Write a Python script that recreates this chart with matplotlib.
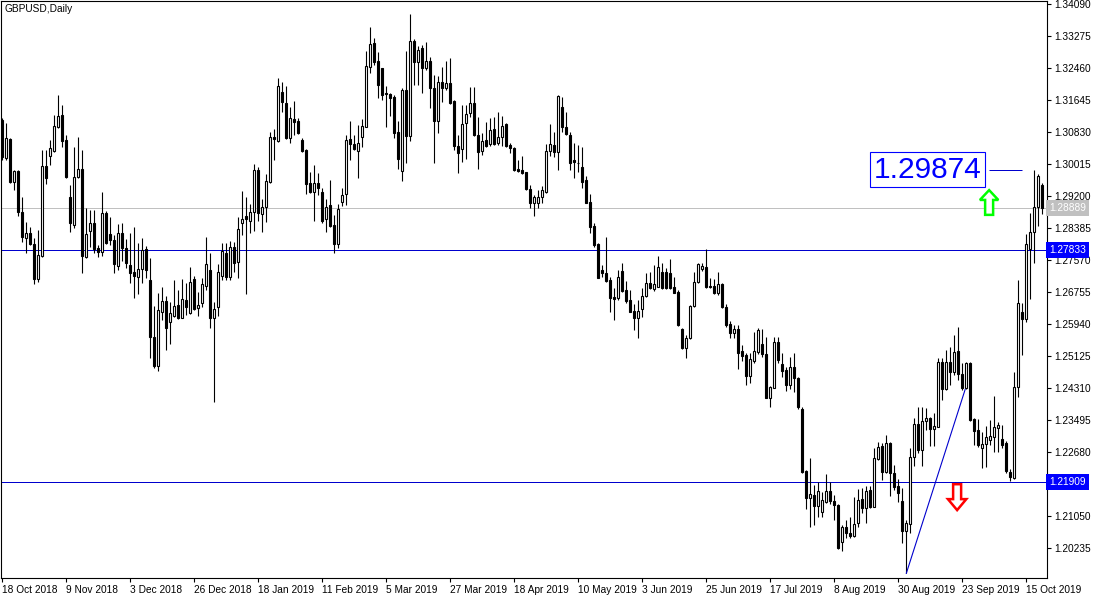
import matplotlib.pyplot as plt
from matplotlib.patches import Polygon
import numpy as np

plt.rcParams['font.family'] = ['Liberation Sans', 'DejaVu Sans']

opens = [
    1.3114, 1.3018, 1.3065, 1.2956, 1.2984, 1.2879, 1.2813, 1.2826, 1.2798, 1.2709,
    1.2767, 1.2996, 1.3022, 1.3035, 1.3096, 1.3126, 1.3063, 1.2918, 1.2846, 1.2968,
    1.2989, 1.2765, 1.2831, 1.2851, 1.2788, 1.2777, 1.2877, 1.2823, 1.2808, 1.2742,
    1.2826, 1.2788, 1.2744, 1.2726, 1.2714, 1.2734, 1.2785, 1.2706, 1.2561, 1.2487,
    1.2625, 1.2653, 1.2599, 1.2614, 1.2642, 1.2609, 1.2655, 1.2622, 1.2709, 1.2635,
    1.2647, 1.2691, 1.2732, 1.2609, 1.2637, 1.2716, 1.2775, 1.2714, 1.2790, 1.2752,
    1.2851, 1.2869, 1.2856, 1.2879, 1.2986, 1.2874, 1.2892, 1.2956, 1.3070, 1.3060,
    1.3185, 1.3157, 1.3068, 1.3116, 1.3111, 1.3063, 1.3037, 1.2953, 1.2930, 1.2953,
    1.2930, 1.2861, 1.2897, 1.2846, 1.2798, 1.2905, 1.2925, 1.3065, 1.3052, 1.3035,
    1.3070, 1.3096, 1.3249, 1.3310, 1.3264, 1.3246, 1.3182, 1.3180, 1.3172, 1.3083,
    1.2984, 1.3190, 1.3073, 1.3315, 1.3261, 1.3297, 1.3246, 1.3264, 1.3195, 1.3111,
    1.3210, 1.3195, 1.3208, 1.3162, 1.3047, 1.3040, 1.3106, 1.3131, 1.3157, 1.3075,
    1.3035, 1.3063, 1.3052, 1.3091, 1.3055, 1.3070, 1.3103, 1.3050, 1.3042, 1.2989,
    1.2986, 1.2981, 1.2938, 1.2902, 1.2902, 1.2918, 1.2930, 1.3035, 1.3050, 1.3032,
    1.3147, 1.3096, 1.3075, 1.3012, 1.3005, 1.2994, 1.2961, 1.2905, 1.2844, 1.2798,
    1.2732, 1.2724, 1.2706, 1.2663, 1.2660, 1.2729, 1.2681, 1.2655, 1.2627, 1.2609,
    1.2632, 1.2665, 1.2698, 1.2683, 1.2688, 1.2726, 1.2726, 1.2724, 1.2688, 1.2676,
    1.2581, 1.2533, 1.2558, 1.2640, 1.2701, 1.2734, 1.2739, 1.2691, 1.2691, 1.2673,
    1.2696, 1.2637, 1.2594, 1.2571, 1.2581, 1.2525, 1.2515, 1.2462, 1.2500, 1.2523,
    1.2543, 1.2518, 1.2405, 1.2431, 1.2548, 1.2492, 1.2477, 1.2439, 1.2484, 1.2456,
    1.2378, 1.2220, 1.2151, 1.2158, 1.2130, 1.2115, 1.2141, 1.2169, 1.2143, 1.2133,
    1.2039, 1.2077, 1.2062, 1.2054, 1.2087, 1.2148, 1.2125, 1.2171, 1.2128, 1.2250,
    1.2283, 1.2217, 1.2291, 1.2215, 1.2181, 1.2143, 1.2067, 1.2085, 1.2255, 1.2339,
    1.2273, 1.2347, 1.2355, 1.2327, 1.2332, 1.2497, 1.2428, 1.2497, 1.2472, 1.2525,
    1.2467, 1.2431, 1.2495, 1.2352, 1.2324, 1.2278, 1.2288, 1.2299, 1.2306, 1.2329,
    1.2301, 1.2291, 1.2217, 1.2202, 1.2434, 1.2625, 1.2607, 1.2785, 1.2828, 1.2892, 1.2948,
]
highs = [
    1.3119, 1.3106, 1.3068, 1.2986, 1.2986, 1.2918, 1.2854, 1.2841, 1.2813, 1.2833,
    1.3037, 1.3037, 1.3063, 1.3126, 1.3177, 1.3152, 1.3075, 1.2948, 1.3045, 1.3070,
    1.3037, 1.2889, 1.2884, 1.2884, 1.2795, 1.2930, 1.2882, 1.2866, 1.2821, 1.2849,
    1.2851, 1.2810, 1.2826, 1.2841, 1.2800, 1.2813, 1.2793, 1.2762, 1.2640, 1.2673,
    1.2688, 1.2665, 1.2650, 1.2706, 1.2681, 1.2709, 1.2698, 1.2739, 1.2716, 1.2676,
    1.2711, 1.2816, 1.2775, 1.2650, 1.2747, 1.2800, 1.2800, 1.2805, 1.2803, 1.2866,
    1.2933, 1.2918, 1.2900, 1.3001, 1.2994, 1.2912, 1.2976, 1.3083, 1.3091, 1.3221,
    1.3210, 1.3200, 1.3147, 1.3162, 1.3119, 1.3068, 1.3040, 1.2981, 1.2999, 1.2979,
    1.2940, 1.2912, 1.2961, 1.2872, 1.2900, 1.2940, 1.3075, 1.3111, 1.3075, 1.3101,
    1.3116, 1.3289, 1.3350, 1.3322, 1.3287, 1.3246, 1.3200, 1.3182, 1.3177, 1.3111,
    1.3195, 1.3289, 1.3384, 1.3320, 1.3302, 1.3305, 1.3312, 1.3274, 1.3228, 1.3226,
    1.3249, 1.3264, 1.3271, 1.3165, 1.3075, 1.3152, 1.3152, 1.3198, 1.3198, 1.3121,
    1.3080, 1.3108, 1.3119, 1.3121, 1.3134, 1.3124, 1.3106, 1.3055, 1.3045, 1.3012,
    1.3022, 1.2981, 1.2948, 1.2923, 1.2935, 1.2945, 1.3052, 1.3103, 1.3083, 1.3177,
    1.3172, 1.3134, 1.3083, 1.3055, 1.3050, 1.3045, 1.2971, 1.2925, 1.2851, 1.2800,
    1.2744, 1.2816, 1.2714, 1.2686, 1.2732, 1.2749, 1.2704, 1.2681, 1.2645, 1.2655,
    1.2686, 1.2724, 1.2726, 1.2744, 1.2767, 1.2749, 1.2737, 1.2759, 1.2714, 1.2681,
    1.2584, 1.2566, 1.2642, 1.2726, 1.2749, 1.2749, 1.2785, 1.2711, 1.2709, 1.2726,
    1.2698, 1.2645, 1.2602, 1.2591, 1.2591, 1.2540, 1.2520, 1.2520, 1.2574, 1.2584,
    1.2581, 1.2561, 1.2436, 1.2561, 1.2561, 1.2520, 1.2484, 1.2510, 1.2520, 1.2459,
    1.2383, 1.2222, 1.2253, 1.2184, 1.2192, 1.2166, 1.2212, 1.2192, 1.2158, 1.2136,
    1.2082, 1.2095, 1.2102, 1.2153, 1.2174, 1.2176, 1.2181, 1.2181, 1.2278, 1.2293,
    1.2291, 1.2311, 1.2293, 1.2235, 1.2199, 1.2176, 1.2095, 1.2278, 1.2355, 1.2383,
    1.2383, 1.2380, 1.2357, 1.2367, 1.2507, 1.2507, 1.2528, 1.2535, 1.2566, 1.2586,
    1.2495, 1.2497, 1.2497, 1.2355, 1.2352, 1.2319, 1.2334, 1.2350, 1.2411, 1.2345,
    1.2337, 1.2296, 1.2225, 1.2472, 1.2706, 1.2647, 1.2823, 1.2877, 1.29874, 1.2976, 1.2953,
]
lows = [
    1.3012, 1.3012, 1.2953, 1.2935, 1.2869, 1.2803, 1.2775, 1.2795, 1.2696, 1.2701,
    1.2765, 1.2951, 1.2999, 1.3032, 1.3093, 1.3045, 1.2966, 1.2828, 1.2839, 1.2966,
    1.2724, 1.2762, 1.2790, 1.2775, 1.2765, 1.2767, 1.2798, 1.2795, 1.2724, 1.2732,
    1.2754, 1.2737, 1.2698, 1.2660, 1.2670, 1.2698, 1.2711, 1.2507, 1.2482, 1.2474,
    1.2604, 1.2528, 1.2543, 1.2612, 1.2607, 1.2609, 1.2617, 1.2619, 1.2630, 1.2614,
    1.2637, 1.2681, 1.2584, 1.2395, 1.2614, 1.2706, 1.2706, 1.2706, 1.2726, 1.2711,
    1.2821, 1.2670, 1.2826, 1.2831, 1.2856, 1.2828, 1.2854, 1.2953, 1.3012, 1.3058,
    1.3134, 1.3065, 1.3055, 1.3075, 1.3078, 1.3032, 1.2925, 1.2928, 1.2856, 1.2923,
    1.2851, 1.2828, 1.2841, 1.2775, 1.2788, 1.2895, 1.2897, 1.3012, 1.3037, 1.2966,
    1.3045, 1.3096, 1.3233, 1.3254, 1.3170, 1.3165, 1.3096, 1.3124, 1.3068, 1.2989,
    1.2958, 1.3004, 1.3060, 1.3203, 1.3203, 1.3182, 1.3241, 1.3144, 1.3004, 1.3080,
    1.3159, 1.3190, 1.3154, 1.3037, 1.2979, 1.3007, 1.3014, 1.3121, 1.3073, 1.2989,
    1.3024, 1.3045, 1.3047, 1.3050, 1.3050, 1.3047, 1.3045, 1.3030, 1.2984, 1.2981,
    1.2976, 1.2935, 1.2889, 1.2869, 1.2889, 1.2902, 1.2928, 1.3022, 1.3019, 1.2986,
    1.3083, 1.3075, 1.2986, 1.2966, 1.2981, 1.2940, 1.2902, 1.2826, 1.2790, 1.2711,
    1.2714, 1.2701, 1.2625, 1.2604, 1.2655, 1.2676, 1.2647, 1.2625, 1.2579, 1.2558,
    1.2612, 1.2663, 1.2683, 1.2678, 1.2688, 1.2683, 1.2683, 1.2683, 1.2673, 1.2589,
    1.2530, 1.2507, 1.2556, 1.2637, 1.2698, 1.2729, 1.2686, 1.2686, 1.2670, 1.2668,
    1.2635, 1.2586, 1.2558, 1.2558, 1.2479, 1.2500, 1.2439, 1.2444, 1.2495, 1.2518,
    1.2510, 1.2405, 1.2383, 1.2431, 1.2495, 1.2459, 1.2423, 1.2428, 1.2421, 1.2378,
    1.2215, 1.2123, 1.2077, 1.2082, 1.2102, 1.2102, 1.2138, 1.2136, 1.2095, 1.2021,
    1.2016, 1.2049, 1.2049, 1.2052, 1.2077, 1.2113, 1.2087, 1.2125, 1.2128, 1.2248,
    1.2197, 1.2215, 1.2156, 1.2171, 1.2141, 1.2036, 1.1960, 1.2062, 1.2232, 1.2266,
    1.2232, 1.2324, 1.2283, 1.2283, 1.2332, 1.2400, 1.2426, 1.2439, 1.2464, 1.2451,
    1.2426, 1.2428, 1.2347, 1.2286, 1.2281, 1.2227, 1.2230, 1.2286, 1.2268, 1.2268,
    1.2278, 1.2215, 1.2194, 1.2199, 1.2408, 1.2515, 1.2599, 1.2658, 1.2749, 1.2844, 1.2874,
]
closes = [
    1.3019, 1.3068, 1.2956, 1.2984, 1.2879, 1.2816, 1.2826, 1.2798, 1.2709, 1.2770,
    1.2996, 1.2966, 1.3042, 1.3098, 1.3124, 1.3060, 1.2968, 1.2851, 1.2968, 1.2989,
    1.2767, 1.2823, 1.2851, 1.2785, 1.2777, 1.2877, 1.2800, 1.2808, 1.2747, 1.2826,
    1.2788, 1.2749, 1.2724, 1.2716, 1.2734, 1.2782, 1.2732, 1.2561, 1.2487, 1.2630,
    1.2653, 1.2584, 1.2622, 1.2640, 1.2609, 1.2658, 1.2637, 1.2701, 1.2632, 1.2642,
    1.2696, 1.2747, 1.2609, 1.2632, 1.2726, 1.2780, 1.2714, 1.2790, 1.2749, 1.2836,
    1.2861, 1.2861, 1.2879, 1.2986, 1.2877, 1.2892, 1.2958, 1.3070, 1.3065, 1.3200,
    1.3159, 1.3068, 1.3119, 1.3108, 1.3080, 1.3035, 1.2951, 1.2930, 1.2953, 1.2940,
    1.2856, 1.2892, 1.2844, 1.2798, 1.2887, 1.2923, 1.3063, 1.3052, 1.3040, 1.3055,
    1.3098, 1.3251, 1.3307, 1.3261, 1.3203, 1.3177, 1.3180, 1.3170, 1.3080, 1.3014,
    1.3190, 1.3073, 1.3315, 1.3261, 1.3292, 1.3246, 1.3264, 1.3195, 1.3111, 1.3210,
    1.3195, 1.3208, 1.3157, 1.3047, 1.3030, 1.3103, 1.3129, 1.3157, 1.3075, 1.3032,
    1.3060, 1.3047, 1.3088, 1.3052, 1.3070, 1.3098, 1.3047, 1.3042, 1.2986, 1.2984,
    1.2979, 1.2938, 1.2902, 1.2918, 1.2918, 1.2935, 1.3035, 1.3052, 1.3032, 1.3175,
    1.3096, 1.3078, 1.3004, 1.3007, 1.3003, 1.2956, 1.2902, 1.2841, 1.2795, 1.2711,
    1.2724, 1.2704, 1.2660, 1.2658, 1.2714, 1.2678, 1.2653, 1.2625, 1.2609, 1.2627,
    1.2665, 1.2698, 1.2686, 1.2696, 1.2739, 1.2686, 1.2686, 1.2686, 1.2673, 1.2591,
    1.2533, 1.2558, 1.2640, 1.2701, 1.2747, 1.2742, 1.2688, 1.2688, 1.2673, 1.2696,
    1.2637, 1.2591, 1.2571, 1.2581, 1.2520, 1.2512, 1.2462, 1.2505, 1.2525, 1.2579,
    1.2518, 1.2405, 1.2434, 1.2548, 1.2502, 1.2474, 1.2439, 1.2484, 1.2456, 1.2383,
    1.2217, 1.2151, 1.2161, 1.2130, 1.2169, 1.2146, 1.2169, 1.2143, 1.2133, 1.2023,
    1.2077, 1.2062, 1.2054, 1.2085, 1.2146, 1.2125, 1.2169, 1.2128, 1.2253, 1.2281,
    1.2217, 1.2291, 1.2215, 1.2179, 1.2164, 1.2067, 1.2087, 1.2255, 1.2339, 1.2273,
    1.2347, 1.2355, 1.2327, 1.2334, 1.2497, 1.2428, 1.2497, 1.2472, 1.2523, 1.2467,
    1.2431, 1.2495, 1.2350, 1.2322, 1.2286, 1.2288, 1.2306, 1.2309, 1.2332, 1.2337,
    1.2286, 1.2220, 1.2204, 1.2434, 1.2647, 1.2607, 1.2798, 1.2828, 1.2892, 1.2971, 1.28889,
]

date_ticks = [0, 16, 32, 48, 64, 80, 96, 112, 128, 144, 160, 176, 192, 208, 224, 240, 256]
date_labels = ['18 Oct 2018', '9 Nov 2018', '3 Dec 2018', '26 Dec 2018', '18 Jan 2019',
               '11 Feb 2019', '5 Mar 2019', '27 Mar 2019', '18 Apr 2019', '10 May 2019',
               '3 Jun 2019', '25 Jun 2019', '17 Jul 2019', '8 Aug 2019', '30 Aug 2019',
               '23 Sep 2019', '15 Oct 2019']
price_ticks = [1.34090, 1.33275, 1.32460, 1.31645, 1.30830, 1.30015, 1.29200, 1.28385,
               1.27570, 1.26755, 1.25940, 1.25125, 1.24310, 1.23495, 1.22680, 1.21865,
               1.21050, 1.20235]

levels = [1.27833, 1.21909]
bid = 1.28889
peak = 1.29874
trend_x = [226, 240.7]
trend_y = [1.1959, 1.2427]

o = np.array(opens)
h = np.array(highs)
l = np.array(lows)
c = np.array(closes)
x = np.arange(len(o))
up = c >= o

fig = plt.figure(figsize=(11, 6), dpi=100)
ax = fig.add_axes([1 / 1100, 22 / 600, 1046 / 1100, 577 / 600])

ax.vlines(x, l, h, color='black', linewidth=0.8, zorder=2)
ax.bar(x[up], np.maximum(c[up] - o[up], 0.00003), bottom=o[up], width=0.5,
       facecolor='white', edgecolor='black', linewidth=0.8, zorder=3)
ax.bar(x[~up], np.maximum(o[~up] - c[~up], 0.00003), bottom=c[~up], width=0.5,
       facecolor='black', edgecolor='black', linewidth=0.8, zorder=3)

line_blue = '#0000cd'

# horizontal levels and bid line (1 px, snapped)
for lv in levels:
    ax.axhline(lv, color=line_blue, linewidth=0.72, snap=True, zorder=1)
ax.axhline(bid, color='#c0c0c0', linewidth=0.72, snap=True, zorder=1)

# trend line
ax.plot(trend_x, trend_y, color=line_blue, linewidth=0.8, zorder=4)

# peak price label
ax.text(231.4, peak, '1.29874', fontsize=21.5, color='blue', ha='center', va='center',
        bbox=dict(boxstyle='square,pad=0.12', facecolor='white', edgecolor='blue', linewidth=0.8),
        zorder=5)
ax.hlines(peak, 246.6, 255, colors=line_blue, linewidth=0.72, snap=True, zorder=4)

# arrows
def block_arrow(cx, tip, base, tail, color):
    pts = [(cx, tip), (cx + 2.3, base), (cx + 1.0, base), (cx + 1.0, tail),
           (cx - 1.0, tail), (cx - 1.0, base), (cx - 2.3, base)]
    ax.add_patch(Polygon(pts, closed=True, facecolor='white', edgecolor=color,
                         linewidth=1.8, zorder=5))

block_arrow(246.7, 1.2935, 1.2910, 1.2872, '#00ff00')
block_arrow(238.7, 1.2120, 1.2148, 1.2186, '#ff0000')

ax.set_xlim(-0.33, 261.17)
ax.set_ylim(1.19471, 1.34167)

for s in ax.spines.values():
    s.set_color('black')
    s.set_linewidth(0.8)

# the level label on the axis hides the tick label next to it
hidden = [1.21865]
ax.yaxis.tick_right()
ax.set_yticks(price_ticks)
ax.set_yticklabels(['' if p in hidden else '%.5f' % p for p in price_ticks])
ax.set_xticks(date_ticks)
ax.set_xticklabels(date_labels, ha='left')
ax.tick_params(axis='both', direction='out', length=3, width=0.8, labelsize=7.3,
               colors='black', pad=2)

# price labels on the axis
yt = ax.get_yaxis_transform()
for lv in levels:
    ax.text(1.002, lv, '%.5f' % lv, transform=yt, ha='left', va='center', color='white',
            fontsize=7.3, clip_on=False, zorder=6,
            bbox=dict(boxstyle='square,pad=0.3', facecolor='blue', edgecolor='none'))
ax.text(1.002, bid, '%.5f' % bid, transform=yt, ha='left', va='center', color='white',
        fontsize=7.3, clip_on=False, zorder=6,
        bbox=dict(boxstyle='square,pad=0.3', facecolor='#c0c0c0', edgecolor='none'))

ax.text(0.003, 0.995, 'GBPUSD,Daily', transform=ax.transAxes, ha='left', va='top',
        fontsize=7.3, color='black')

fig.savefig('out.png', dpi=100, facecolor='white')
